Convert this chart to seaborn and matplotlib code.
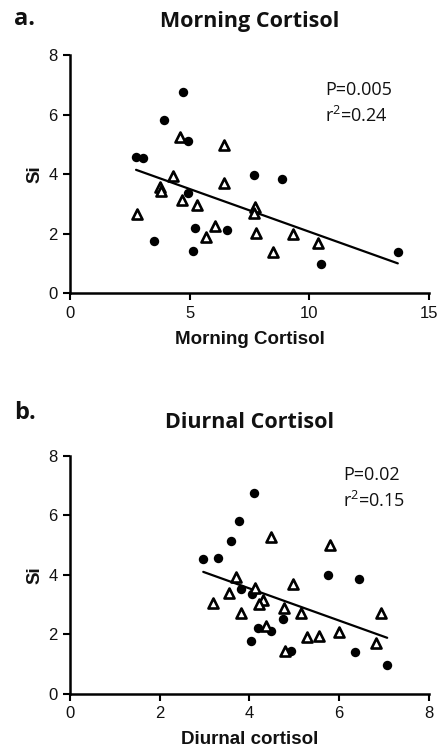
import matplotlib
matplotlib.use("Agg")
import matplotlib.pyplot as plt
import seaborn as sns
import pandas as pd

# panel a: morning cortisol vs Si
a_circ_x = [2.76, 3.04, 3.93, 4.71, 4.92, 4.95, 7.70, 8.86, 3.53, 5.23, 5.16, 6.57, 10.50, 13.70]
a_circ_y = [4.57, 4.53, 5.82, 6.75, 5.11, 3.36, 3.98, 3.84, 1.77, 2.20, 1.42, 2.11, 0.97, 1.39]
a_tri_x = [4.59, 6.42, 4.32, 6.44, 3.75, 3.80, 4.67, 5.30, 2.79, 6.04, 5.68, 7.74, 7.67, 7.77, 8.47, 9.34, 10.36]
a_tri_y = [5.26, 4.98, 3.95, 3.71, 3.58, 3.43, 3.15, 2.96, 2.68, 2.27, 1.88, 2.91, 2.70, 2.03, 1.39, 1.98, 1.70]

# panel b: diurnal cortisol vs Si
b_circ_x = [4.10, 3.77, 3.58, 2.97, 3.30, 5.75, 6.44, 3.82, 4.05, 4.75, 4.19, 4.47, 4.03, 4.92, 6.36, 7.07]
b_circ_y = [6.76, 5.81, 5.13, 4.53, 4.55, 3.99, 3.85, 3.51, 3.35, 2.51, 2.20, 2.12, 1.78, 1.44, 1.40, 0.97]
b_tri_x = [4.49, 5.79, 3.71, 4.12, 3.55, 4.97, 3.19, 4.30, 4.21, 3.82, 4.77, 5.14, 6.93, 4.36, 5.29, 5.55, 5.99, 6.83, 4.80]
b_tri_y = [5.28, 5.00, 3.94, 3.55, 3.40, 3.69, 3.04, 3.15, 3.01, 2.71, 2.88, 2.73, 2.71, 2.28, 1.90, 1.95, 2.07, 1.72, 1.44]

panels = [
    ("a.", "Morning Cortisol", "Morning Cortisol", a_circ_x, a_circ_y, a_tri_x, a_tri_y,
     [0, 5, 10, 15], "P=0.005", "r$^2$=0.24", (0.71, 0.855, 0.745)),
    ("b.", "Diurnal Cortisol", "Diurnal cortisol", b_circ_x, b_circ_y, b_tri_x, b_tri_y,
     [0, 2, 4, 6, 8], "P=0.02", "r$^2$=0.15", (0.76, 0.92, 0.81)),
]

sns.set_style("ticks")
plt.rcParams["font.family"] = ["Liberation Sans", "DejaVu Sans"]
plt.rcParams["mathtext.fontset"] = "custom"
plt.rcParams["mathtext.rm"] = "Open Sans"
plt.rcParams["text.color"] = "#111111"
plt.rcParams["axes.labelcolor"] = "#111111"

fig = plt.figure(figsize=(4.39, 7.55), dpi=100)
boxes = [[0.1595, 0.6115, 0.8175, 0.3155], [0.1595, 0.0808, 0.8175, 0.3156]]
tag_y = [1.152, 1.18]

for box, ty0, (tag, title, xlabel, cx, cy, tx, ty, xticks, ptxt, rtxt, tpos) in zip(boxes, tag_y, panels):
    ax = fig.add_axes(box)
    df_c = pd.DataFrame({"x": cx, "y": cy})
    df_t = pd.DataFrame({"x": tx, "y": ty})
    df_all = pd.concat([df_c, df_t])

    sns.regplot(data=df_all, x="x", y="y", ax=ax, scatter=False, ci=None,
                truncate=True, line_kws=dict(color="black", lw=1.6))
    sns.scatterplot(data=df_c, x="x", y="y", ax=ax, marker="o", s=46,
                    color="black", edgecolor="black", linewidth=0, zorder=3)
    sns.scatterplot(data=df_t, x="x", y="y", ax=ax, marker="^", s=52,
                    facecolor="white", edgecolor="black", linewidth=1.9, zorder=4)

    ax.set_xlim(xticks[0], xticks[-1])
    ax.set_ylim(0, 8)
    ax.set_xticks(xticks)
    ax.set_yticks([0, 2, 4, 6, 8])
    sns.despine(ax=ax)
    for s in ["left", "bottom"]:
        ax.spines[s].set_linewidth(1.8)
        ax.spines[s].set_color("black")
    ax.tick_params(width=1.5, length=5, labelsize=12, colors="black", labelcolor="#111111", pad=4)

    ax.set_xlabel(xlabel, fontsize=13.5, fontweight="bold", labelpad=7)
    ax.set_ylabel("Si", fontsize=13.5, fontweight="bold", labelpad=3)
    ax.set_title(title, fontsize=15.5, fontweight="bold", family=["Open Sans", "DejaVu Sans"], pad=20)
    ax.text(-0.155, ty0, tag, transform=ax.transAxes, fontsize=17, fontweight="bold",
            family=["Open Sans", "DejaVu Sans"], ha="left", va="center")
    ax.text(tpos[0], tpos[1], ptxt, transform=ax.transAxes, fontsize=13,
            family=["Open Sans", "DejaVu Sans"], ha="left", va="center")
    ax.text(tpos[0], tpos[2], rtxt, transform=ax.transAxes, fontsize=13,
            family=["Open Sans", "DejaVu Sans"], ha="left", va="center")

fig.savefig("out.png", dpi=100)
